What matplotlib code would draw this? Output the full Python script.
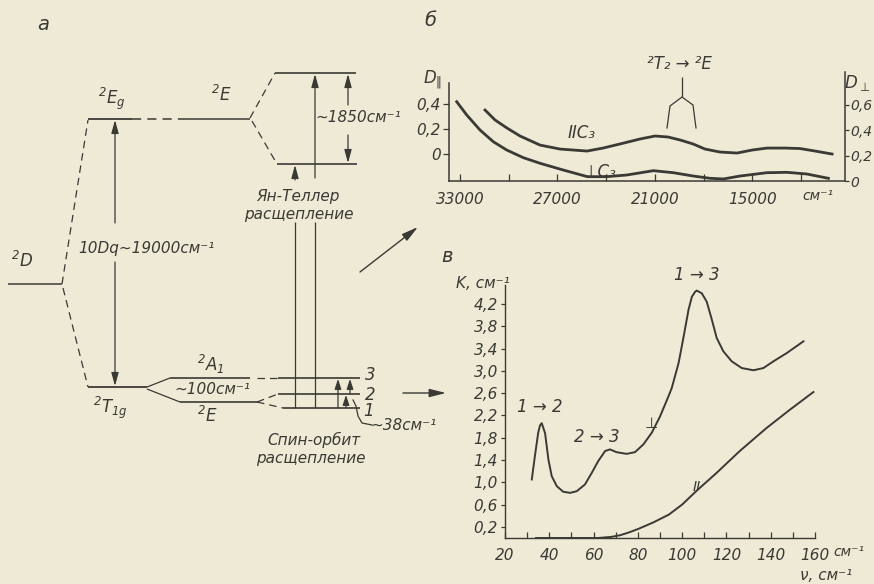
import matplotlib
matplotlib.use("Agg")
import matplotlib.pyplot as plt
from matplotlib.ticker import FixedLocator, FixedFormatter, NullFormatter

plt.rcParams["font.family"] = ["DejaVu Sans"]
plt.rcParams["font.style"] = "italic"
plt.rcParams["mathtext.fontset"] = "dejavusans"
plt.rcParams["mathtext.default"] = "it"

BG = "#eeead6"
INK = "#3a3a35"

# ---------------- panel б: optical density vs wavenumber ----------------
nu_par = [31460, 30844, 30105, 29304, 28072, 26840, 25177, 24192, 23144, 21912,
          20988, 20188, 19448, 18648, 17908, 16984, 15937, 15013, 14089, 12980,
          12056, 11132, 10085]
d_par = [0.354, 0.274, 0.209, 0.145, 0.072, 0.040, 0.024, 0.048, 0.081, 0.121,
         0.145, 0.137, 0.113, 0.081, 0.040, 0.016, 0.008, 0.032, 0.048, 0.048,
         0.044, 0.024, 0.000]

nu_perp = [33204, 32588, 31768, 30949, 30124, 29101, 28072, 26637, 25155, 23964,
           22732, 21093, 19861, 18629, 17600, 16781, 15752, 14108, 12876, 11643,
           10313]
d_perp = [0.622, 0.518, 0.400, 0.308, 0.243, 0.183, 0.139, 0.086, 0.034, 0.034,
          0.047, 0.081, 0.065, 0.039, 0.021, 0.016, 0.039, 0.065, 0.068, 0.055,
          0.021]

b_major = [33000, 27000, 21000, 15000]
b_major_labels = ["33000", "27000", "21000", "15000"]
b_minor = [30000, 24000, 18000, 12000]
b_left_ticks = [0.0, 0.2, 0.4]
b_left_labels = ["0", "0,2", "0,4"]
b_right_ticks = [0.0, 0.2, 0.4, 0.6]
b_right_labels = ["0", "0,2", "0,4", "0,6"]

# ---------------- panel в: absorption coefficient in far IR ----------------
nu_k_perp = [32.1, 33.5, 35.0, 35.8, 36.6, 38.1, 39.6, 41.1, 43.4, 46.3, 49.4,
             52.4, 56.1, 59.2, 62.1, 65.2, 67.4, 70.4, 74.9, 78.7, 82.5, 86.3,
             90.0, 93.8, 95.3, 98.4, 100.7, 102.9, 104.4, 105.9, 106.6, 108.9,
             111.1, 113.4, 115.6, 118.6, 122.4, 126.9, 132.2, 136.7, 141.2,
             147.3, 154.8]
k_perp = [1.05, 1.47, 1.89, 2.02, 2.06, 1.88, 1.41, 1.11, 0.93, 0.83, 0.81,
          0.84, 0.96, 1.17, 1.38, 1.56, 1.59, 1.54, 1.51, 1.54, 1.68, 1.89,
          2.18, 2.54, 2.69, 3.14, 3.62, 4.10, 4.33, 4.42, 4.44, 4.39,
          4.24, 3.92, 3.59, 3.35, 3.17, 3.05, 3.01, 3.05, 3.17,
          3.32, 3.53]

nu_k_par = [34, 50, 62, 68, 72, 76, 80, 87, 94, 100, 106.6, 115.6, 126, 138,
            148.6, 159.3]
k_par = [0.0, 0.0, 0.0, 0.02, 0.05, 0.10, 0.16, 0.28, 0.42, 0.60, 0.85, 1.17,
         1.56, 1.97, 2.30, 2.62]

c_major = [20, 40, 60, 80, 100, 120, 140, 160]
c_major_labels = ["20", "40", "60", "80", "100", "120", "140", "160"]
c_minor = [30, 50, 70, 90, 110, 130, 150]
c_yticks = [0.2, 0.6, 1.0, 1.4, 1.8, 2.2, 2.6, 3.0, 3.4, 3.8, 4.2]
c_ylabels = ["0,2", "0,6", "1,0", "1,4", "1,8", "2,2", "2,6", "3,0", "3,4",
             "3,8", "4,2"]

W, H = 874, 584
fig = plt.figure(figsize=(W / 100, H / 100), dpi=100)
fig.patch.set_facecolor(BG)

# full-figure canvas in pixel units for the level scheme and free labels
ax0 = fig.add_axes([0, 0, 1, 1])
ax0.set_xlim(0, W)
ax0.set_ylim(H, 0)
ax0.axis("off")
ax0.patch.set_alpha(0)


def line(xs, ys, lw=1.0):
    ax0.plot(xs, ys, color=INK, lw=lw, solid_capstyle="butt")


def dashed(xs, ys, lw=0.9):
    ax0.plot(xs, ys, color=INK, lw=lw, ls=(0, (6, 4)))


def arrow(x0, y0, x1, y1, lw=0.9, hl=0.8, hw=0.22):
    ax0.annotate("", xy=(x1, y1), xytext=(x0, y0),
                 arrowprops=dict(arrowstyle=f"-|>,head_length={hl},head_width={hw}",
                                 color=INK, lw=lw, shrinkA=0, shrinkB=0))


def txt(x, y, s, size=11.5, ha="center", va="center"):
    ax0.text(x, y, s, fontsize=size, color=INK, ha=ha, va=va)


# ---------- panel а: energy level scheme ----------
txt(43, 25, "а", 14)

# free ion term
line([8, 62], [284, 284], 1.1)
txt(22, 261, r"$^2D$", 12)
dashed([62, 88], [284, 120])
dashed([63, 88], [288, 387])

# octahedral levels
line([88, 132], [119, 119], 1.3)
dashed([132, 178], [119, 119], 1.1)
line([178, 250], [119, 119], 1.1)
txt(112, 99, r"$^2E_g$", 12)
txt(221, 95, r"$^2E$", 12)

line([88, 147], [387, 387], 1.3)
txt(110, 408, r"$^2T_{1g}$", 12)

arrow(115, 223, 115, 120)
arrow(115, 262, 115, 386)
txt(146, 248, "10Dq~19000см⁻¹", 11)

# Jahn–Teller splitting of the upper E level
dashed([250, 275], [118, 73])
dashed([252, 277], [121, 164])
line([275, 356], [73, 73], 1.2)
line([277, 357], [164, 164], 1.2)

arrow(348, 105, 348, 74)
arrow(348, 135, 348, 163)
txt(358, 118, "~1850см⁻¹", 11)

arrow(315, 178, 315, 74)
line([315, 315], [222, 408], 0.9)
arrow(295, 180, 295, 165)
line([295, 295], [222, 408], 0.9)
txt(298, 196, "Ян-Теллер", 11)
txt(299, 214, "расщепление", 11)

# trigonal splitting of the lower T level
line([147, 170], [387, 378], 0.9)
line([147, 180], [389, 402], 0.9)
line([170, 250], [378, 378], 1.2)
line([180, 257], [402, 402], 1.2)
txt(211, 364, r"$^2A_1$", 12)
txt(212, 389, "~100см⁻¹", 11)
txt(207, 416, r"$^2E$", 12)

# spin-orbit levels 1, 2, 3
dashed([257, 278], [378, 378])
line([278, 360], [378, 378], 1.2)
dashed([257, 278], [402, 394])
dashed([257, 283], [402, 408])
line([278, 360], [394, 394], 1.2)
line([283, 360], [408, 408], 1.2)
txt(370, 375, "3", 12)
txt(370, 395, "2", 12)
txt(368, 411, "1", 12)
arrow(338, 408, 338, 379, hl=0.6, hw=0.2)
arrow(350, 394, 350, 379, hl=0.6, hw=0.2)
arrow(346, 408, 346, 395, hl=0.6, hw=0.2)
ax0.plot([353, 356, 358, 362, 372], [400, 406, 416, 423, 425], color=INK, lw=0.9)
txt(404, 426, "~38см⁻¹", 11)
txt(314, 440, "Спин-орбит", 11)
txt(311, 459, "расщепление", 11)

# pointers to the spectra
arrow(403, 393, 446, 393, lw=1.0, hl=1.0, hw=0.25)
arrow(360, 272, 418, 227, lw=1.0, hl=1.0, hw=0.25)

# ---------- panel б ----------
bx0, bx1, by0, by1 = 449, 845, 181, 72
axb = fig.add_axes([bx0 / W, 1 - by0 / H, (bx1 - bx0) / W, (by0 - by1) / H])
axb.patch.set_alpha(0)
axb.set_xlim(33678, 9290)
axb.set_ylim(-0.217, 0.66)
axb.plot(nu_par, d_par, color=INK, lw=2.0)
axb.spines["top"].set_visible(False)
axb.spines["right"].set_visible(False)
axb.spines["left"].set_bounds(-0.217, 0.57)
for s in ("left", "bottom"):
    axb.spines[s].set_color(INK)
    axb.spines[s].set_linewidth(1.1)
axb.xaxis.set_major_locator(FixedLocator(b_major))
axb.xaxis.set_major_formatter(FixedFormatter(b_major_labels))
axb.xaxis.set_minor_locator(FixedLocator(b_minor))
axb.xaxis.set_minor_formatter(NullFormatter())
axb.yaxis.set_major_locator(FixedLocator(b_left_ticks))
axb.yaxis.set_major_formatter(FixedFormatter(b_left_labels))
axb.tick_params(axis="x", which="both", direction="in", length=5, width=0.9,
                color=INK, labelcolor=INK, labelsize=11, pad=8)
axb.tick_params(axis="y", direction="out", length=4, width=0.9, color=INK,
                labelcolor=INK, labelsize=11, pad=2)

axb2 = axb.twinx()
axb2.patch.set_alpha(0)
axb2.set_ylim(0.0, 0.855)
axb2.plot(nu_perp, d_perp, color=INK, lw=2.0)
for s in ("top", "left", "bottom"):
    axb2.spines[s].set_visible(False)
axb2.spines["right"].set_color(INK)
axb2.spines["right"].set_linewidth(1.1)
axb2.yaxis.set_major_locator(FixedLocator(b_right_ticks))
axb2.yaxis.set_major_formatter(FixedFormatter(b_right_labels))
axb2.tick_params(axis="y", direction="out", length=3, width=0.9, color=INK,
                 labelcolor=INK, labelsize=10, pad=1)

txt(430, 20, "б", 14)
txt(433, 80, r"$D_{\Vert}$", 12)
txt(857, 83, r"$D_{\bot}$", 12)
txt(818, 196, "см⁻¹", 10)
txt(582, 133, "IIC₃", 12)
txt(600, 172, "⊥C₃", 12)
txt(679, 64, "²T₂ → ²E", 12)
line([682, 682], [77, 97], 0.9)
ax0.plot([667, 670, 682, 693, 696], [128, 106, 97, 105, 128], color=INK, lw=0.9)

# ---------- panel в ----------
cx0, cx1, cy0, cy1 = 505, 815, 538, 285
axc = fig.add_axes([cx0 / W, 1 - cy0 / H, (cx1 - cx0) / W, (cy0 - cy1) / H])
axc.patch.set_alpha(0)
axc.set_xlim(20, 160)
axc.set_ylim(0.0, 4.54)
axc.plot(nu_k_perp, k_perp, color=INK, lw=1.4)
axc.plot(nu_k_par, k_par, color=INK, lw=1.4)
axc.spines["top"].set_visible(False)
axc.spines["right"].set_visible(False)
for s in ("left", "bottom"):
    axc.spines[s].set_color(INK)
    axc.spines[s].set_linewidth(1.0)
axc.xaxis.set_major_locator(FixedLocator(c_major))
axc.xaxis.set_major_formatter(FixedFormatter(c_major_labels))
axc.xaxis.set_minor_locator(FixedLocator(c_minor))
axc.xaxis.set_minor_formatter(NullFormatter())
axc.yaxis.set_major_locator(FixedLocator(c_yticks))
axc.yaxis.set_major_formatter(FixedFormatter(c_ylabels))
axc.tick_params(axis="x", which="both", direction="in", length=4, width=0.9,
                color=INK, labelcolor=INK, labelsize=11, pad=7)
axc.tick_params(axis="y", direction="out", length=3, width=0.9, color=INK,
                labelcolor=INK, labelsize=11, pad=2)

txt(447, 256, "в", 14)
txt(483, 284, "K, см⁻¹", 11)
txt(849, 552, "см⁻¹", 10)
txt(826, 576, "ν, см⁻¹", 11)
txt(540, 407, "1 → 2", 12)
txt(597, 437, "2 → 3", 12)
txt(651, 424, "⊥", 11)
txt(697, 275, "1 → 3", 12)
txt(697, 487, "II", 10)

fig.savefig("out.png", dpi=100, facecolor=BG)
